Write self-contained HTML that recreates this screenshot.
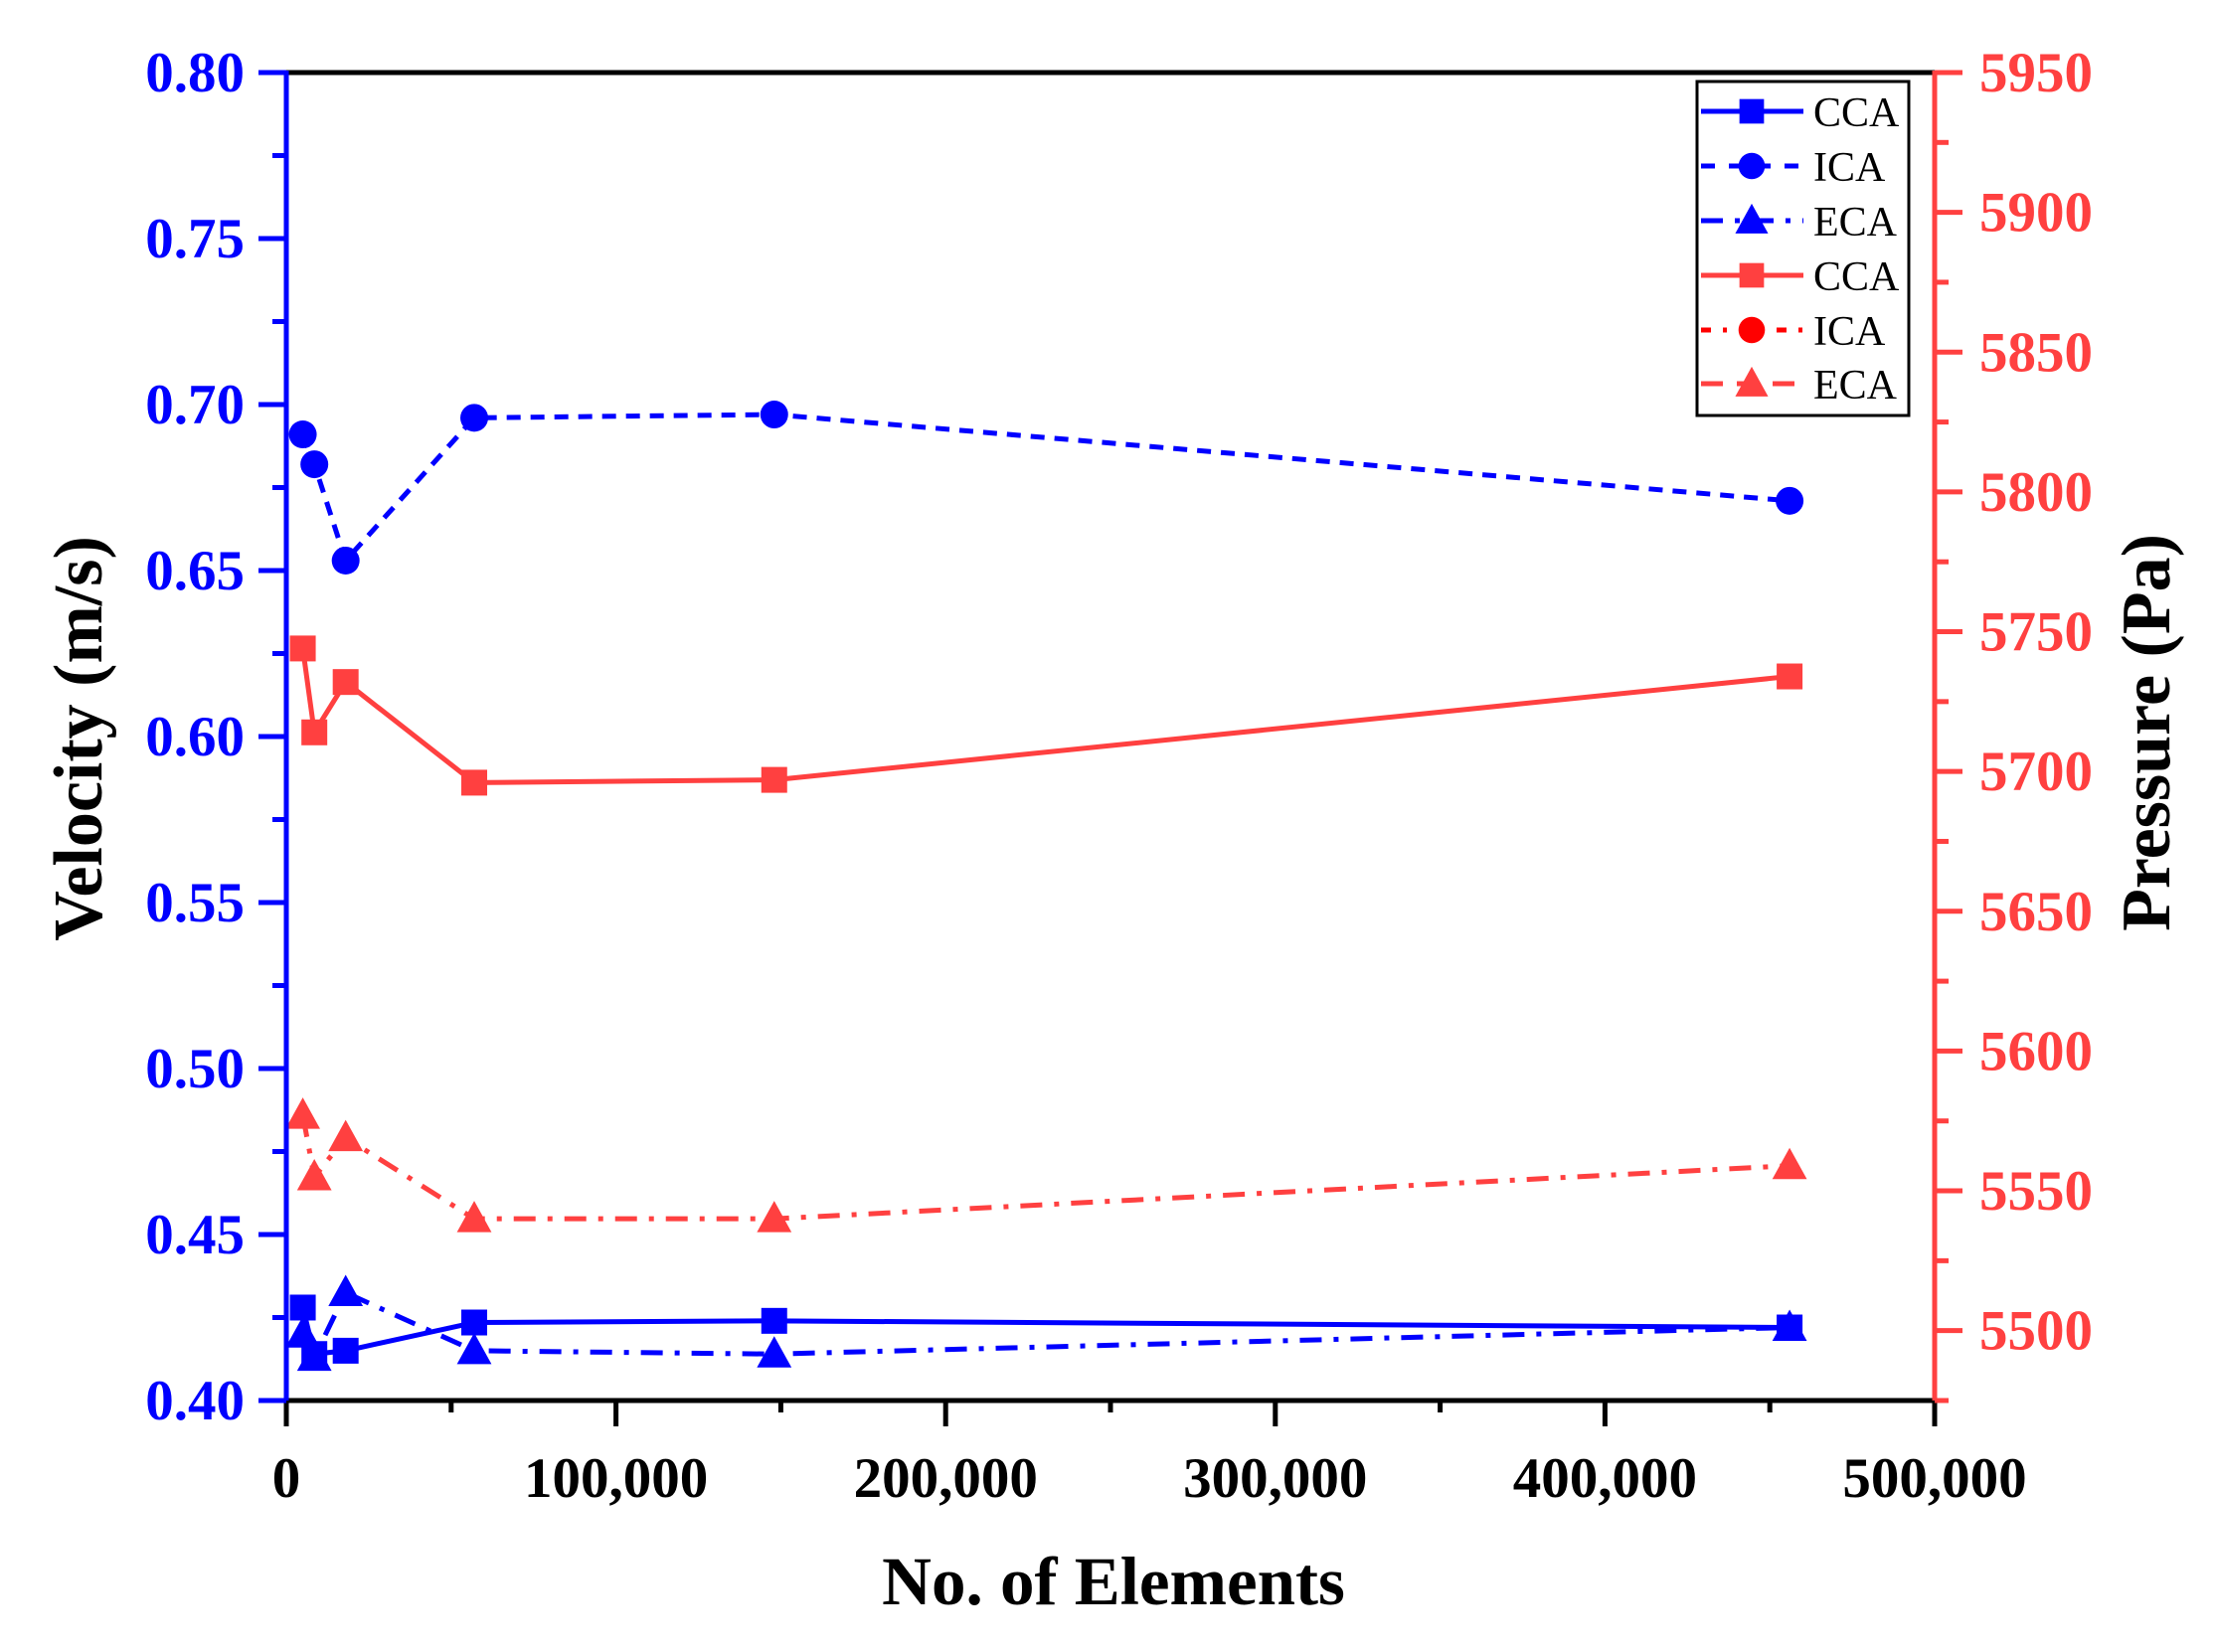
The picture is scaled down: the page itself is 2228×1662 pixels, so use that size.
<!DOCTYPE html>
<html><head><meta charset="utf-8"><style>
html,body{margin:0;padding:0;background:#fff;}
svg{display:block;}
text{font-family:"Liberation Serif",serif;font-weight:bold;}
</style></head><body>
<svg id="chart" width="2228" height="1662" xmlns="http://www.w3.org/2000/svg">
<g id="grid"></g>
<g id="series"></g>
<g id="axes"></g>
<g id="legend"></g>
</svg>
<script>
const xValues = [5000, 8500, 18000, 57000, 148000, 456000];
const velCCA = [0.428, 0.414, 0.415, 0.4235, 0.424, 0.422];
const velICA = [0.691, 0.682, 0.653, 0.696, 0.697, 0.671];
const velECA = [0.420, 0.413, 0.4325, 0.415, 0.414, 0.422];
const presCCA = [5744, 5714, 5732, 5696, 5697, 5734];
const presECA = [5577, 5555, 5569, 5540, 5540, 5559];
const xTicks = [0, 100000, 200000, 300000, 400000, 500000];
const xTickLabels = ["0", "100,000", "200,000", "300,000", "400,000", "500,000"];
const velTicks = [0.40, 0.45, 0.50, 0.55, 0.60, 0.65, 0.70, 0.75, 0.80];
const presTicks = [5500, 5550, 5600, 5650, 5700, 5750, 5800, 5850, 5900, 5950];

const L=288, R=1946, T=73, B=1409;
const BLUE="#0000ff", RED="#ff4040";
const NS="http://www.w3.org/2000/svg";
const xs = v => L + (v/500000)*(R-L);
const yv = v => B - (v-0.40)/0.40*(B-T);
const yp = v => B - (v-5475)/475*(B-T);

function mk(tag, attrs, parent, txt){
  const e=document.createElementNS(NS,tag);
  for(const k in attrs) e.setAttribute(k, attrs[k]);
  if(txt!==undefined) e.textContent=txt;
  parent.appendChild(e);
  return e;
}
const axes=document.getElementById('axes');
const series=document.getElementById('series');
const legend=document.getElementById('legend');

function marker(shape, x, y, color, parent, size){
  size = size||1;
  let e;
  if(shape==='square'){
    const s=26*size;
    e=mk('rect',{x:x-s/2,y:y-s/2,width:s,height:s,fill:color},parent);
  } else if(shape==='circle'){
    e=mk('circle',{cx:x,cy:y,r:14*size,fill:color},parent);
  } else {
    const h=30*size;
    e=mk('polygon',{points:`${x},${y-h*0.6} ${x-h*0.58},${y+h*0.45} ${x+h*0.58},${y+h*0.45}`,fill:color},parent);
  }
  return e;
}
function drawSeries(name, ys, yfn, color, dash, shape){
  const g=mk('g',{},series);
  
  
  const pts=xValues.map((x,i)=>xs(x)+','+yfn(ys[i])).join(' ');
  const pl=mk('polyline',{points:pts,fill:'none',stroke:color,'stroke-width':5,'stroke-dasharray':dash,'stroke-linejoin':'round'},g);
  
  
  xValues.forEach((x,i)=>{
    const m=marker(shape, xs(x), yfn(ys[i]), color, g);
    
    
  });
}
drawSeries('velocity-cca', velCCA, yv, BLUE, 'none', 'square');
drawSeries('velocity-ica', velICA, yv, BLUE, '14 10', 'circle');
drawSeries('velocity-eca', velECA, yv, BLUE, '22 12 5 12', 'triangle');
drawSeries('pressure-cca', presCCA, yp, RED, 'none', 'square');
drawSeries('pressure-eca', presECA, yp, RED, '22 12 5 12', 'triangle');

mk('line',{x1:L,y1:B,x2:R,y2:B,stroke:'#000','stroke-width':5},axes);
mk('line',{x1:L,y1:T,x2:R,y2:T,stroke:'#000','stroke-width':5},axes);
mk('line',{x1:L,y1:T-2,x2:L,y2:B+2,stroke:BLUE,'stroke-width':5},axes);
mk('line',{x1:R,y1:T-2,x2:R,y2:B+2,stroke:RED,'stroke-width':5},axes);

xTicks.forEach((v,i)=>{
  const x=xs(v);
  mk('line',{x1:x,y1:B,x2:x,y2:B+26,stroke:'#000','stroke-width':5},axes);
  const t=mk('text',{x:x,y:1506,'text-anchor':'middle','font-size':57,fill:'#000'},axes,xTickLabels[i]);
  
  
  if(i<xTicks.length-1){
    const xm=xs(v+50000);
    mk('line',{x1:xm,y1:B,x2:xm,y2:B+12,stroke:'#000','stroke-width':5},axes);
  }
});
velTicks.forEach((v,i)=>{
  const y=yv(v);
  mk('line',{x1:L-28,y1:y,x2:L,y2:y,stroke:BLUE,'stroke-width':5},axes);
  const t=mk('text',{x:246,y:y+19,'text-anchor':'end','font-size':57,fill:BLUE},axes,v.toFixed(2));
  
  
  if(i<velTicks.length-1){
    const ym=yv(v+0.025);
    mk('line',{x1:L-14,y1:ym,x2:L,y2:ym,stroke:BLUE,'stroke-width':5},axes);
  }
});
presTicks.forEach((v,i)=>{
  const y=yp(v);
  mk('line',{x1:R,y1:y,x2:R+28,y2:y,stroke:RED,'stroke-width':5},axes);
  const t=mk('text',{x:1991,y:y+19,'text-anchor':'start','font-size':57,fill:RED},axes,String(v));
  
  
});
for(let v=5475; v<=5950; v+=25){
  if(v%50!==0){ const y=yp(v); mk('line',{x1:R,y1:y,x2:R+14,y2:y,stroke:RED,'stroke-width':5},axes); }
}

let t=mk('text',{x:1120,y:1614,'text-anchor':'middle','font-size':69,fill:'#000'},axes,'No. of Elements');
 
t=mk('text',{x:0,y:0,'text-anchor':'middle','font-size':70,fill:'#000',transform:'translate(102,743) rotate(-90)'},axes,'Velocity (m/s)');
 
t=mk('text',{x:0,y:0,'text-anchor':'middle','font-size':70,fill:'#000',transform:'translate(2182,737) rotate(-90)'},axes,'Pressure (Pa)');
 

mk('rect',{x:1707,y:82,width:213,height:336,fill:'#fff',stroke:'#000','stroke-width':3},legend);
const legItems=[
  ['CCA',BLUE,'none','square'],['ICA',BLUE,'14 14','circle'],['ECA',BLUE,'22 12 5 12','triangle'],
  ['CCA',RED,'none','square'],['ICA','#ff0000','10 12 4 12','circle'],['ECA',RED,'22 14','triangle']];
const legY=[112,167,222,277,332,386];
legItems.forEach((it,i)=>{
  const g=mk('g',{},legend);
  
  
  const y=legY[i];
  mk('line',{x1:1711,y1:y,x2:1814,y2:y,stroke:it[1],'stroke-width':5,'stroke-dasharray':it[2]},g);
  marker(it[3],1762,y,it[1],g,0.95);
  mk('text',{x:1824,y:y+15,'font-size':42,fill:'#000',style:'font-weight:normal'},g,it[0]);
});
</script>
</body></html>
